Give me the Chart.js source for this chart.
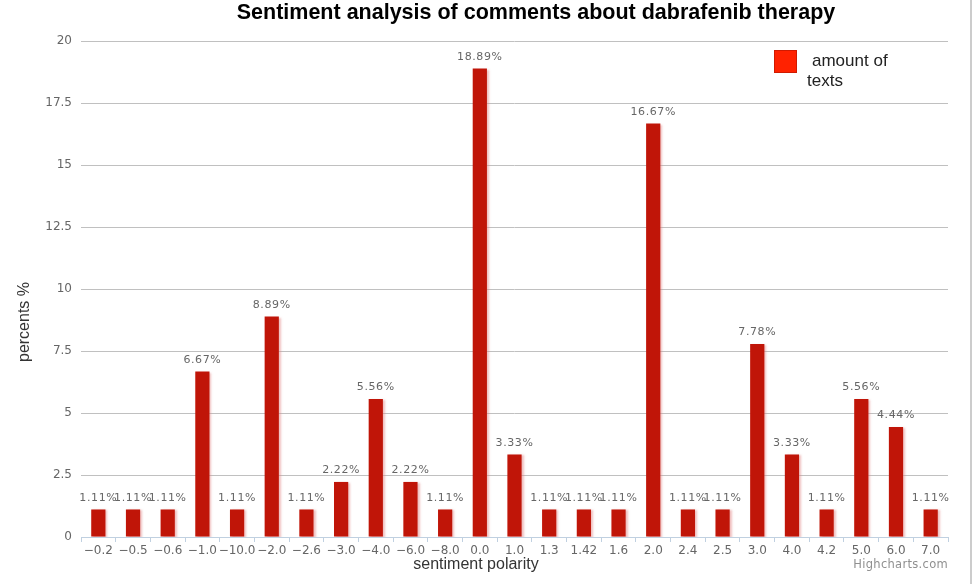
<!DOCTYPE html>
<html>
<head>
<meta charset="utf-8">
<script src="https://cdn.jsdelivr.net/npm/chart.js@4.4.0/dist/chart.umd.min.js"></script>
<style>
  html, body { margin: 0; padding: 0; background: #fff; }
  .chart-container { width: 979px; height: 584px; position: relative; }
</style>
</head>
<body>
<div class="chart-container">
  <canvas id="chart"></canvas>
</div>
<script>
// sentiment polarity categories, in the order shown on the axis
const categories = ['\u22120.2', '\u22120.5', '\u22120.6', '\u22121.0', '\u221210.0', '\u22122.0', '\u22122.6',
  '\u22123.0', '\u22124.0', '\u22126.0', '\u22128.0', '0.0', '1.0', '1.3', '1.42', '1.6', '2.0', '2.4',
  '2.5', '3.0', '4.0', '4.2', '5.0', '6.0', '7.0'];

// percent of texts per polarity
const percents = [1.11, 1.11, 1.11, 6.67, 1.11, 8.89, 1.11, 2.22, 5.56, 2.22, 1.11, 18.89, 3.33,
  1.11, 1.11, 1.11, 16.67, 1.11, 1.11, 7.78, 3.33, 1.11, 5.56, 4.44, 1.11];

const yTicks = [0, 2.5, 5, 7.5, 10, 12.5, 15, 17.5, 20];

const seriesName = ['amount of', 'texts'];
const chartTitle = 'Sentiment analysis of comments about dabrafenib therapy';
const yTitle = 'percents %';
const xTitle = 'sentiment polarity';
const credits = 'Highcharts.com';

// shadow behind the bars + value labels
const barDecor = {
  id: 'barDecor',
  beforeDatasetsDraw(chart) {
    const ctx = chart.ctx;
    ctx.save();
    ctx.shadowColor = 'rgba(225, 130, 130, 0.5)';
    ctx.shadowOffsetX = 2;
    ctx.shadowOffsetY = 1;
    ctx.shadowBlur = 2;
  },
  afterDatasetsDraw(chart) {
    const ctx = chart.ctx;
    ctx.restore();
    const meta = chart.getDatasetMeta(0);
    ctx.save();
    ctx.font = '11px "DejaVu Sans"';
    ctx.letterSpacing = '0.6px';
    ctx.fillStyle = '#666';
    ctx.textAlign = 'center';
    ctx.textBaseline = 'bottom';
    meta.data.forEach((bar, i) => {
      ctx.fillText(percents[i] + '%', bar.x, bar.y - 6);
    });
    ctx.restore();
  }
};

// title, axis titles, legend box and credits
const extras = {
  id: 'extras',
  afterDraw(chart) {
    const ctx = chart.ctx;
    ctx.save();
    ctx.fillStyle = '#000';
    ctx.font = 'bold 21.5px "Liberation Sans"';
    ctx.textAlign = 'center';
    ctx.textBaseline = 'middle';
    ctx.fillText(chartTitle, 536, 13);

    ctx.fillStyle = '#333';
    ctx.font = '16px "Liberation Sans"';
    ctx.fillText(xTitle, 476, 565);

    ctx.save();
    ctx.translate(25, 322);
    ctx.rotate(-Math.PI / 2);
    ctx.fillText(yTitle, 0, 0);
    ctx.restore();

    // legend
    ctx.fillStyle = '#ff2200';
    ctx.fillRect(774, 50, 23, 23);
    ctx.strokeStyle = '#d01a00';
    ctx.lineWidth = 1;
    ctx.strokeRect(774.5, 50.5, 22, 22);
    ctx.fillStyle = '#222';
    ctx.font = '17px "Liberation Sans"';
    ctx.textAlign = 'left';
    ctx.fillText(seriesName[0], 812, 61);
    ctx.fillText(seriesName[1], 807, 81);

    ctx.fillStyle = '#909090';
    ctx.font = '11.5px "DejaVu Sans"';
    ctx.letterSpacing = '0.3px';
    ctx.textAlign = 'right';
    ctx.fillText(credits, 948, 565);

    // frame on the right
    ctx.strokeStyle = '#cccccc';
    ctx.lineWidth = 2;
    ctx.beginPath();
    ctx.moveTo(971, 0);
    ctx.lineTo(971, 584);
    ctx.stroke();
    ctx.restore();
  }
};

new Chart(document.getElementById('chart').getContext('2d'), {
  type: 'bar',
  data: {
    labels: categories,
    datasets: [{
      label: seriesName.join(' '),
      data: percents,
      backgroundColor: '#c01508',
      barPercentage: 0.41,
      categoryPercentage: 1.0
    }]
  },
  options: {
    responsive: true,
    maintainAspectRatio: false,
    animation: false,
    devicePixelRatio: 1,
    layout: { padding: { top: 41, right: 31, bottom: 0, left: 0 } },
    plugins: {
      legend: { display: false },
      title: { display: false },
      tooltip: { enabled: false }
    },
    scales: {
      x: {
        afterFit: (scale) => { scale.height = 47; },
        grid: {
          drawOnChartArea: false,
          color: '#c0d0e0',
          tickLength: 5,
          offset: true
        },
        border: { color: '#c0d0e0', width: 1 },
        ticks: {
          color: '#666',
          font: { family: 'DejaVu Sans', size: 12 },
          maxRotation: 0,
          autoSkip: false,
          padding: 2
        }
      },
      y: {
        min: 0,
        max: 20,
        afterFit: (scale) => { scale.width = 81; },
        afterBuildTicks: (scale) => { scale.ticks = yTicks.map(v => ({ value: v })); },
        grid: { color: '#c0c0c0', drawTicks: false },
        border: { display: false },
        ticks: {
          color: '#666',
          font: { family: 'DejaVu Sans', size: 12 },
          padding: 9,
          callback: (v) => String(v)
        }
      }
    }
  },
  plugins: [barDecor, extras]
});
</script>
</body>
</html>
